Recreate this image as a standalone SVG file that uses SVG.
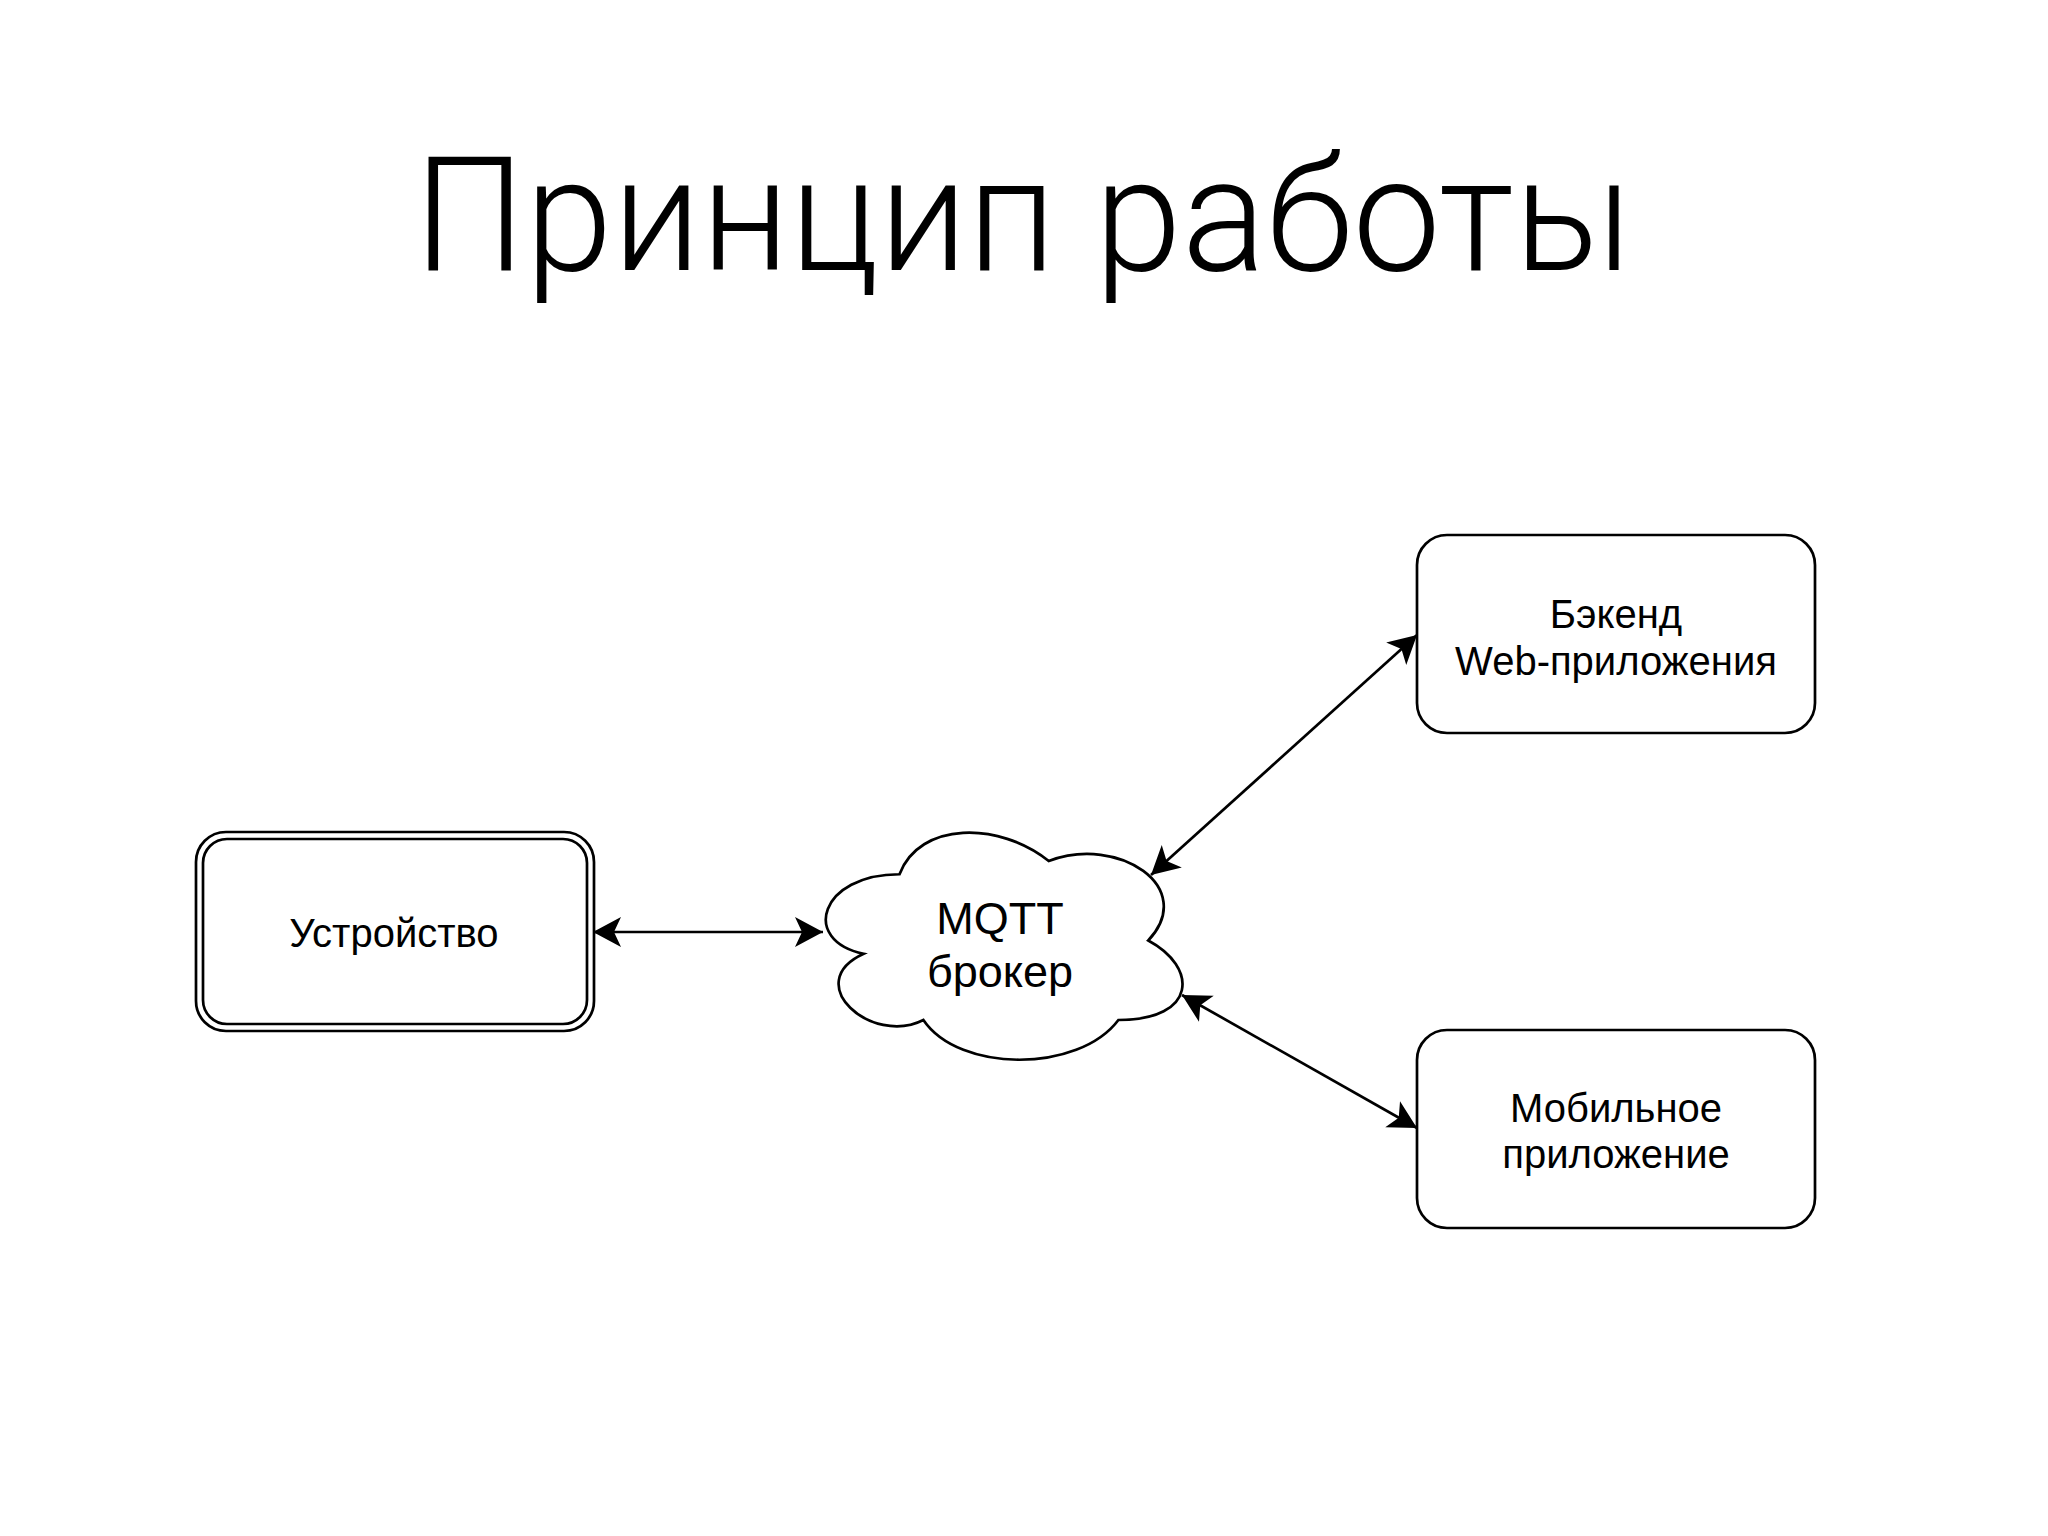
<svg xmlns="http://www.w3.org/2000/svg" width="2048" height="1536" viewBox="0 0 2048 1536">
<defs>
<style>
.box{fill:#fff;stroke:#000;stroke-width:2.7}
.lbl{font-family:"Liberation Sans",Arial,sans-serif;font-size:40px;fill:#000;text-anchor:middle}
.cl{font-family:"Liberation Sans",Arial,sans-serif;font-size:45px;fill:#000;text-anchor:middle}
.title{font-family:Roboto,"Liberation Sans",sans-serif;font-weight:300;font-size:160px;fill:#000}
.conn{fill:none;stroke:#000;stroke-width:2.7}
</style>
<marker id="ah" viewBox="-30 -16 32 32" markerWidth="32" markerHeight="32" refX="0" refY="0" markerUnits="userSpaceOnUse" orient="auto-start-reverse">
<path d="M0,0 L-28,-15 L-21,0 L-28,15 Z" fill="#000"/>
</marker>
</defs>
<rect width="2048" height="1536" fill="#fff"/>
<text class="title" x="414" y="270" textLength="1218" lengthAdjust="spacingAndGlyphs">Принцип работы</text>

<g id="connectors">
<line class="conn" x1="593" y1="932" x2="823" y2="932" marker-start="url(#ah)" marker-end="url(#ah)"/>
<line class="conn" x1="1151" y1="875" x2="1417" y2="635" marker-start="url(#ah)" marker-end="url(#ah)"/>
<line class="conn" x1="1182" y1="995" x2="1417" y2="1128" marker-start="url(#ah)" marker-end="url(#ah)"/>
</g>

<g id="device">
<rect class="box" x="196" y="832" width="398" height="199" rx="30"/>
<rect class="box" x="203" y="839" width="384" height="185" rx="24"/>
<text class="lbl" x="394" y="947">Устройство</text>
</g>

<g id="broker">
<path class="box" d="M899.5,874.25 C819.9,874.25 800,940.5 863.68,953.75 C800,982.9 871.64,1046.5 923.38,1020 C959.2,1073 1078.6,1073 1118.4,1020 C1198,1020 1198,967 1148.25,940.5 C1198,887.5 1118.4,834.5 1048.75,861 C999,821.25 919.4,821.25 899.5,874.25 Z"/>
<text class="cl" x="1000" y="934">MQTT</text>
<text class="cl" x="1000" y="987">брокер</text>
</g>

<g id="backend">
<rect class="box" x="1417" y="535" width="398" height="198" rx="30"/>
<text class="lbl" x="1616" y="628">Бэкенд</text>
<text class="lbl" x="1616" y="675">Web-приложения</text>
</g>

<g id="mobile">
<rect class="box" x="1417" y="1030" width="398" height="198" rx="30"/>
<text class="lbl" x="1616" y="1122">Мобильное</text>
<text class="lbl" x="1616" y="1168">приложение</text>
</g>
</svg>
